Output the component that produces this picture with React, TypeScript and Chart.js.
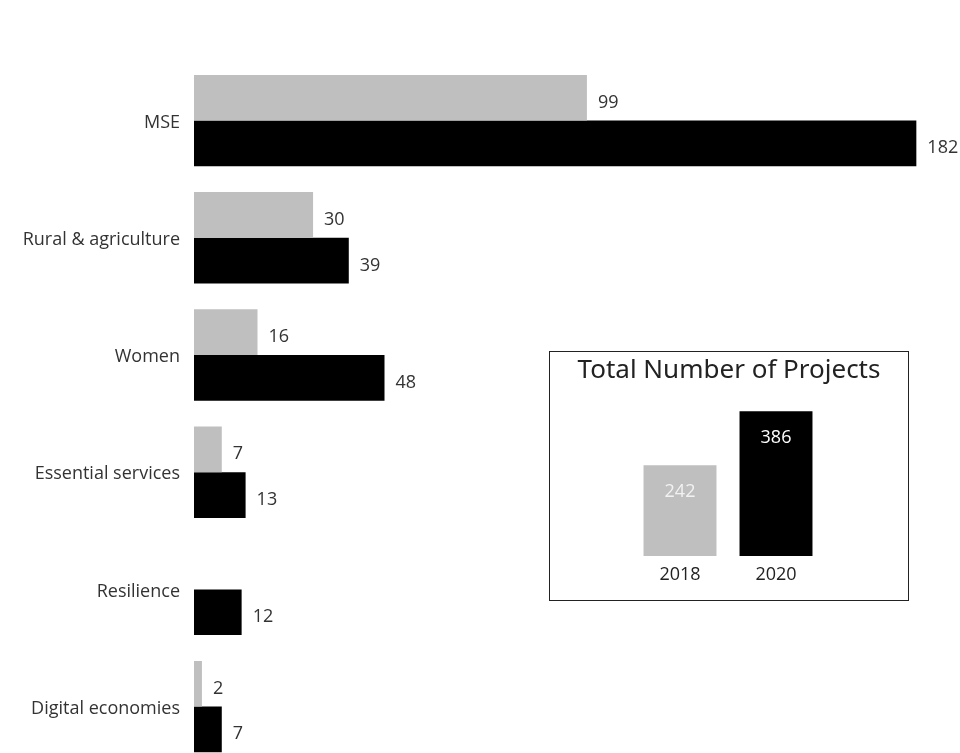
import React, { useEffect, useRef } from "react";
import { Chart, registerables } from "chart.js";

Chart.register(...registerables);

const categories = ["MSE", "Rural & agriculture", "Women", "Essential services", "Resilience", "Digital economies"];
const values2018: (number | null)[] = [99, 30, 16, 7, null, 2];
const values2020: number[] = [182, 39, 48, 13, 12, 7];

const totalYears = ["2018", "2020"];
const totalValues = [242, 386];
const insetTitle = "Total Number of Projects";

const GRAY = "#bfbfbf";
const BLACK = "#000000";
const FONT = '"Open Sans", "Noto Sans", sans-serif';

const valueLabels = {
  id: "valueLabels",
  afterDatasetsDraw(chart: any) {
    const ctx = chart.ctx;
    chart.data.datasets.forEach((ds: any, i: number) => {
      const meta = chart.getDatasetMeta(i);
      meta.data.forEach((bar: any, j: number) => {
        const v = ds.data[j];
        if (v == null) return;
        ctx.save();
        ctx.font = `400 18px ${FONT}`;
        ctx.fillStyle = "#333333";
        ctx.textAlign = "left";
        ctx.textBaseline = "alphabetic";
        ctx.fillText(String(v), bar.x + 11, bar.y + 10);
        ctx.restore();
      });
    });
  },
};

const innerLabels = {
  id: "innerLabels",
  afterDatasetsDraw(chart: any) {
    const ctx = chart.ctx;
    const meta = chart.getDatasetMeta(0);
    meta.data.forEach((bar: any, j: number) => {
      const v = chart.data.datasets[0].data[j];
      ctx.save();
      ctx.font = `400 18px ${FONT}`;
      ctx.fillStyle = j === 0 ? "#f2f2f2" : "#ffffff";
      ctx.textAlign = "center";
      ctx.textBaseline = "alphabetic";
      ctx.fillText(String(v), bar.x, bar.y + 32);
      ctx.restore();
    });
  },
};

const titleDraw = {
  id: "titleDraw",
  afterDraw(chart: any) {
    const ctx = chart.ctx;
    ctx.save();
    ctx.font = `400 26px "Noto Sans", "Open Sans", sans-serif`;
    ctx.fillStyle = "#222222";
    ctx.textAlign = "center";
    ctx.textBaseline = "middle";
    ctx.fillText(insetTitle, chart.width / 2, 19);
    ctx.restore();
  },
};

export default function App() {
  const mainRef = useRef<HTMLCanvasElement>(null);
  const insetRef = useRef<HTMLCanvasElement>(null);

  useEffect(() => {
    Chart.defaults.font.family = FONT;
    const main = new Chart(mainRef.current!, {
      type: "bar",
      data: {
        labels: categories,
        datasets: [
          { label: "2018", data: values2018, backgroundColor: GRAY, barPercentage: 1, categoryPercentage: 0.78 },
          { label: "2020", data: values2020, backgroundColor: BLACK, barPercentage: 1, categoryPercentage: 0.78 },
        ],
      },
      options: {
        indexAxis: "y",
        animation: false,
        responsive: false,
        layout: { padding: { top: 62, bottom: 20, left: 0, right: 0 } },
        plugins: { legend: { display: false }, tooltip: { enabled: false } },
        scales: {
          x: { display: false, min: 0, max: 193 },
          y: {
            grid: { display: false, drawTicks: false },
            border: { display: false },
            ticks: { padding: 14, labelOffset: 2, color: "#333333", font: { size: 18, family: FONT } },
            afterFit: (s: any) => {
              s.width = 194;
            },
          },
        },
      },
      plugins: [valueLabels],
    });

    const inset = new Chart(insetRef.current!, {
      type: "bar",
      data: {
        labels: totalYears,
        datasets: [
          {
            label: "Total",
            data: totalValues,
            backgroundColor: [GRAY, BLACK],
            barPercentage: 0.76,
            categoryPercentage: 1,
          },
        ],
      },
      options: {
        animation: false,
        responsive: false,
        layout: { padding: { left: 82, right: 84, top: 54, bottom: 0 } },
        plugins: {
          legend: { display: false },
          tooltip: { enabled: false },
          title: { display: false },
        },
        scales: {
          x: {
            grid: { display: false, drawTicks: false },
            border: { display: false },
            ticks: { padding: 8, color: "#222222", font: { size: 18, family: FONT } },
            afterFit: (s: any) => {
              s.height = 44;
            },
          },
          y: { display: false, min: 0, max: 400 },
        },
      },
      plugins: [innerLabels, titleDraw],
    });

    return () => {
      main.destroy();
      inset.destroy();
    };
  }, []);

  return (
    <div style={{ position: "fixed", left: 0, top: 0, width: 960, height: 753, overflow: "hidden", background: "#fff" }}>
      <canvas ref={mainRef} width={960} height={790} style={{ display: "block", position: "absolute", left: 0, top: 0 }} />
      <div
        style={{
          position: "absolute",
          left: 549,
          top: 351,
          width: 358,
          height: 248,
          border: "1px solid #222",
          background: "#fff",
        }}
      >
        <canvas ref={insetRef} width={358} height={248} style={{ display: "block" }} />
      </div>
    </div>
  );
}
